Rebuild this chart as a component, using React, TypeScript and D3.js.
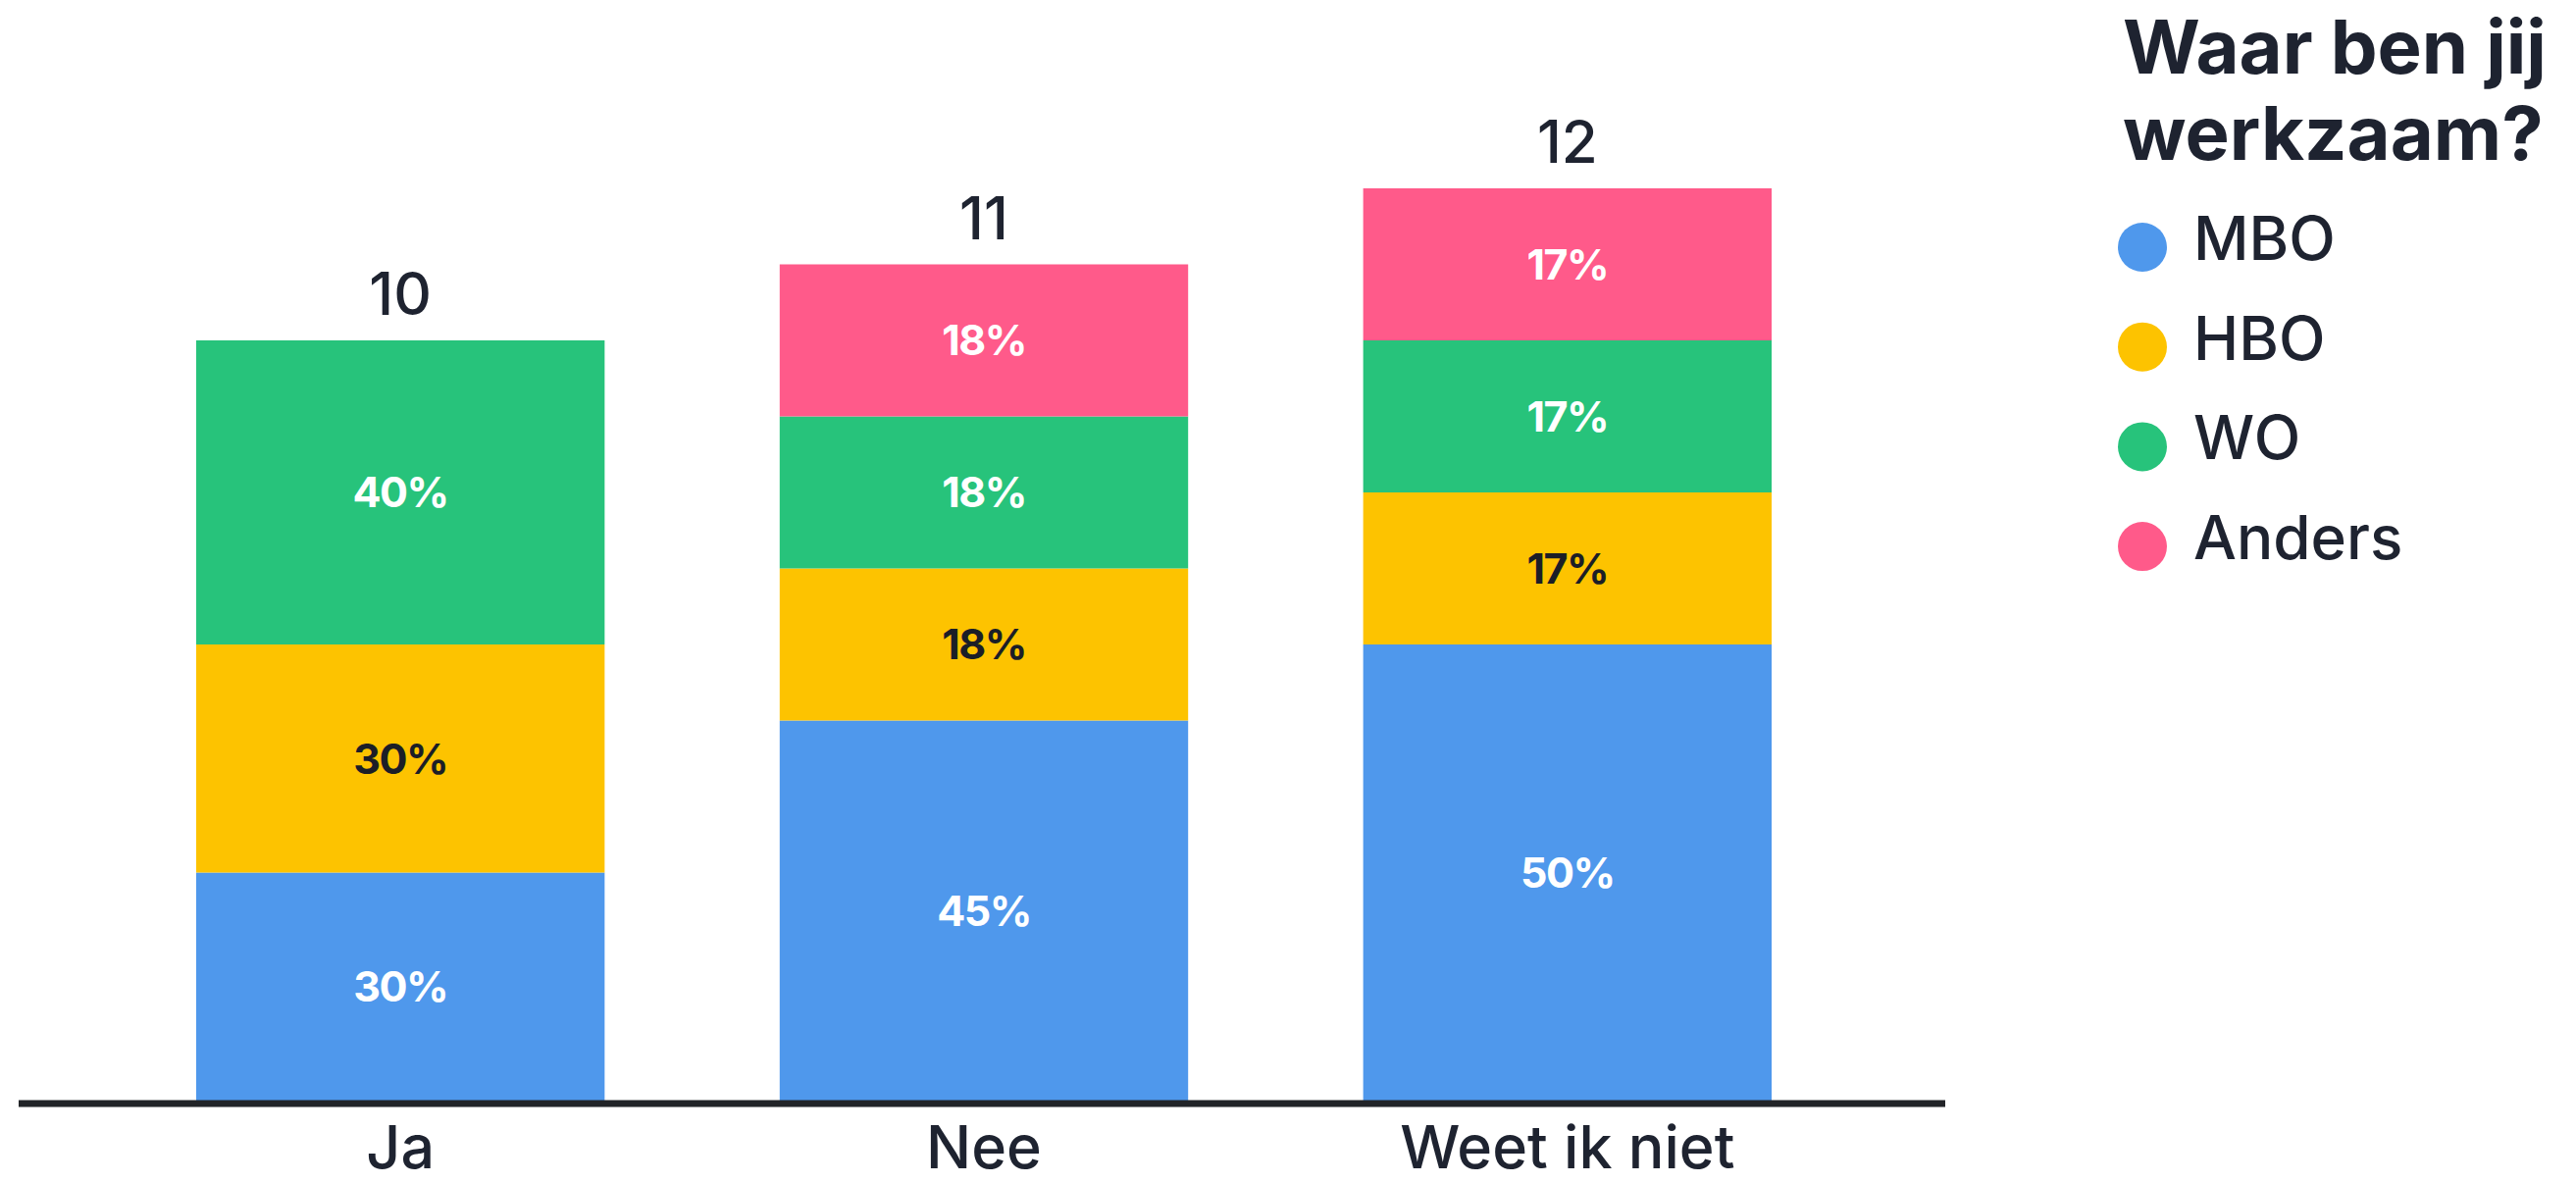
import React from "react";
import * as d3 from "d3";

const categories = ["Ja", "Nee", "Weet ik niet"];
const seriesNames = ["MBO", "HBO", "WO", "Anders"];
const mboCounts = [3, 5, 6];
const hboCounts = [3, 2, 2];
const woCounts = [4, 2, 2];
const andersCounts = [0, 2, 2];
const totals = [10, 11, 12];
const legendTitle = ["Waar ben jij", "werkzaam?"];

const colors = ["#4f98ec", "#fdc300", "#27c37b", "#ff5a8a"];
const labelColors = ["#ffffff", "#1b1e27", "#ffffff", "#ffffff"];
const textColor = "#1e2330";
const FONT = "Inter, 'Noto Sans', sans-serif";

export default function App() {
  const W = 2626;
  const H = 1206;
  const rows = categories.map((c, i) => ({
    cat: c,
    MBO: mboCounts[i],
    HBO: hboCounts[i],
    WO: woCounts[i],
    Anders: andersCounts[i],
    total: totals[i],
  }));
  const stack = d3.stack<any>().keys(seriesNames)(rows);

  const x = d3
    .scaleBand()
    .domain(categories)
    .range([110.75, 1895.25])
    .paddingInner(0.3)
    .paddingOuter(0.15);
  const y = d3.scaleLinear().domain([0, 12]).range([1122, 192]);

  return (
    <svg
      width={W}
      height={H}
      style={{ position: "absolute", left: 0, top: 0, background: "#fff" }}
      fontFamily={FONT}
    >
      {stack.map((layer, si) =>
        layer.map((d, ci) => {
          const v = d[1] - d[0];
          if (v <= 0) return null;
          const x0 = x(categories[ci])!;
          const bw = x.bandwidth();
          const yTop = y(d[1]);
          const yBot = y(d[0]);
          const pct = Math.round((v / totals[ci]) * 100);
          return (
            <g key={`${si}-${ci}`}>
              <rect x={x0} y={yTop} width={bw} height={yBot - yTop} fill={colors[si]} />
              <text
                x={x0 + bw / 2}
                y={(yTop + yBot) / 2}
                dy="0.36em"
                textAnchor="middle"
                fontSize={43}
                fontWeight={700}
                letterSpacing={-1.5}
                fill={labelColors[si]}
              >
                {pct}%
              </text>
            </g>
          );
        })
      )}
      {rows.map((r, i) => (
        <text
          key={"t" + i}
          x={x(r.cat)! + x.bandwidth() / 2}
          y={y(r.total) - 26}
          textAnchor="middle"
          fontSize={60}
          fontWeight={500}
          fill={textColor}
        >
          {r.total}
        </text>
      ))}
      <line x1={19} x2={1983} y1={1125} y2={1125} stroke="#222428" strokeWidth={7} />
      {categories.map((c, i) => (
        <text
          key={"c" + i}
          x={x(c)! + x.bandwidth() / 2}
          y={1191}
          textAnchor="middle"
          fontSize={61}
          fontWeight={500}
          fill={textColor}
        >
          {c}
        </text>
      ))}
      <g>
        {legendTitle.map((l, i) => (
          <text
            key={"lt" + i}
            x={2164}
            y={75 + i * 88}
            fontSize={76}
            fontWeight={700}
            fill={textColor}
          >
            {l}
          </text>
        ))}
        {seriesNames.map((s, i) => (
          <g key={"lg" + i}>
            <circle cx={2184} cy={252 + i * 101.7} r={25} fill={colors[i]} />
            <text x={2236} y={252 + i * 101.7 + 13} fontSize={62} fontWeight={500} fill={textColor}>
              {s}
            </text>
          </g>
        ))}
      </g>
    </svg>
  );
}
